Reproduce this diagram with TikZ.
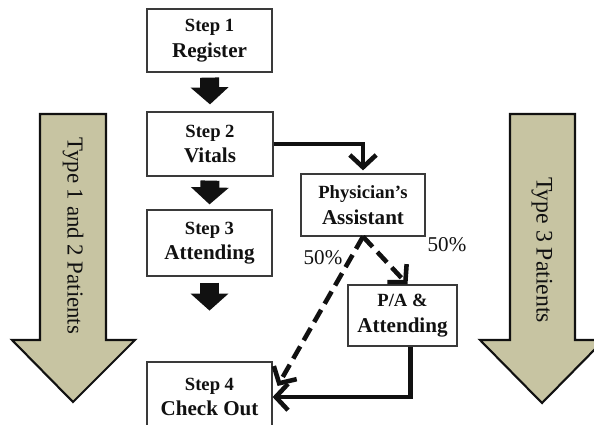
\documentclass[tikz,border=0pt]{standalone}
\usepackage{fontspec}
\setmainfont{Liberation Serif}
\usetikzlibrary{arrows.meta,calc}
\definecolor{khaki}{HTML}{C7C4A2}
\definecolor{edge}{HTML}{3A3A3A}
\definecolor{ink}{HTML}{111111}
\newcommand\stepno[1]{{\fontsize{10.6}{14}\selectfont #1}}

\begin{document}
\begin{tikzpicture}[x=0.02cm,y=-0.02cm,
  stepbox/.style={draw=edge,line width=0.7pt,fill=white,align=center,inner sep=0pt,
    font=\bfseries\fontsize{12}{14.5}\selectfont,text=ink},
  blk/.style={ink,line width=0.38cm,-{Triangle[width=0.74cm,length=0.34cm]}},
  flow/.style={ink,line width=2.6pt,-{Straight Barb[length=7pt,width=15pt,line width=2.6pt]}},
  half/.style={flow,dash pattern=on 8pt off 4pt},
  big/.style={draw=ink,line width=1.2pt,fill=khaki,line join=miter},
  pct/.style={font=\fontsize{12}{14}\selectfont,text=ink}]
  \useasboundingbox (0,0) rectangle (594,425);

  % patient type arrows
  \draw[big] (40,114) -- (106,114) -- (106,340) -- (135,340) -- (73,402)
    -- (12,340) -- (40,340) -- cycle;
  \draw[big] (510,114) -- (575,114) -- (575,340) -- (604,340) -- (542,403)
    -- (480,340) -- (510,340) -- cycle;
  \node[rotate=-90,font=\fontsize{13}{15}\selectfont,text=ink] (typeA) at (73,236) {Type 1 and 2 Patients};
  \node[rotate=-90,font=\fontsize{13.5}{15}\selectfont,text=ink] (typeB) at (542,250) {Type 3 Patients};

  % steps
  \node[stepbox,minimum width=2.5cm,minimum height=1.26cm] (s1) at (209.5,40.5)
    {\stepno{Step 1}\\Register};
  \node[stepbox,minimum width=2.52cm,minimum height=1.28cm] (s2) at (210,144)
    {\stepno{Step 2}\\Vitals};
  \node[stepbox,minimum width=2.5cm,minimum height=1.32cm] (s3) at (209.5,243)
    {\stepno{Step 3}\\Attending};
  \node[stepbox,minimum width=2.5cm,minimum height=1.4cm] (s4) at (209.5,397)
    {\stepno{Step 4}\\Check Out};
  \node[stepbox,minimum width=2.48cm,minimum height=1.24cm] (pa) at (363,205)
    {\stepno{Physician’s}\\Assistant};
  \node[stepbox,minimum width=2.18cm,minimum height=1.22cm] (pat) at (402.5,315.5)
    {\stepno{P/A \&}\\Attending};

  % block arrows
  \draw[blk] ($(s1.south)+(0,5)$) -- ($(s2.north)+(0,-7)$);
  \draw[blk] ($(s2.south)+(0,4)$) -- ($(s3.north)+(0,-5)$);
  \draw[blk] ($(s3.south)+(0,6)$) -- ($(s3.south)+(0,34)$);

  % routes
  \draw[flow] (s2.east) -| ($(pa.north)+(0,-3)$);
  \draw[half] (pa.south) -- ($(pat.north)+(5,0)$);
  \draw[half] (pa.south) -- ($(s4.east)+(5,-11)$);
  \draw[flow] ($(pat.south)+(8,0)$) |- (s4.east);
  \node[pct] (pl) at (323,258) {50\%};
  \node[pct] (pr) at (447,245) {50\%};
\end{tikzpicture}
\end{document}
